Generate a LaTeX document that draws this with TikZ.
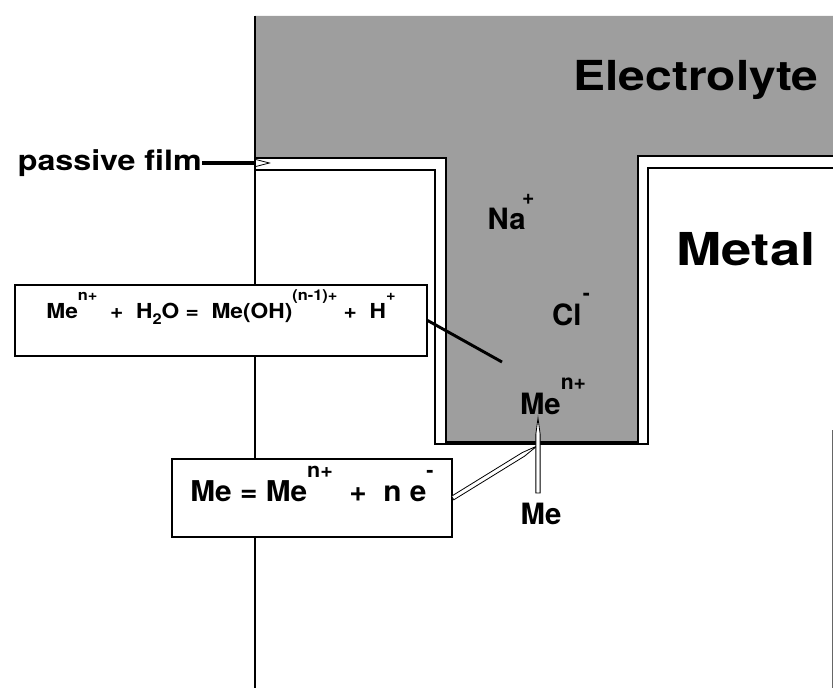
\documentclass[tikz,border=0pt]{standalone}
\usepackage{fontspec}
\setmainfont{TeX Gyre Heros}
\usepackage{graphicx}
\usetikzlibrary{arrows.meta,calc}
\newcommand{\chg}[1]{\raisebox{0.85em}{\scalebox{0.72}{#1}}}
\newcommand{\lowr}[1]{\raisebox{-0.3em}{\scalebox{0.72}{#1}}}
\newcommand{\wide}[2]{\scalebox{#1}[1]{#2}}
\newcommand{\lift}[2]{\raisebox{#1}[\height][\depth]{#2}}

\begin{document}
\begin{tikzpicture}[x=0.75pt,y=0.75pt,yscale=-1,xscale=1,
  big/.style={font=\bfseries\fontsize{31}{36}\selectfont, inner sep=0pt},
  lbl/.style={font=\bfseries\fontsize{21}{26}\selectfont, inner sep=0pt},
  ion/.style={font=\bfseries\fontsize{22}{26}\selectfont, inner sep=0pt},
  eqsmall/.style={font=\bfseries\fontsize{15.5}{18}\selectfont},
  eqbig/.style={font=\bfseries\fontsize{21.5}{25}\selectfont},
  frame/.style={draw, line width=1, fill=white, inner sep=0pt},
  spike/.style={draw, fill=white, line width=0.6, line join=miter}]
\useasboundingbox (0,0) rectangle (833,688);

%Shape: Polygon [id:electrolyte]
\fill [black!38] (255,16) -- (833,16) -- (833,156) -- (638,156) -- (638,442) -- (446,442) -- (446,158) -- (255,158) -- cycle ;
%Straight Lines [id:electrolyte edge]
\draw [line width=1.2] (255,158) -- (446,158) -- (446,442) -- (638,442) -- (638,156) -- (833,156) ;
%Straight Lines [id:metal surface]
\draw [line width=1.2] (255,16) -- (255,688) ;
\draw [line width=1.2] (255,170) -- (435,170) -- (435,444) -- (648,444) -- (648,168) -- (833,168) ;
\draw [line width=0.6, black!60] (832,430) -- (832,688) ;

%Text labels
\node [big] (elec) at (696,80) {\wide{1.16}{Electrolyte}};
\node [big, font=\bfseries\fontsize{34}{38}\selectfont] (metal) at (746,249) {\wide{1.2}{Metal}};
\node [lbl, anchor=east] (film) at (202,163) {\wide{1.15}{passive film}};
\node [ion] (na) at (511,212) {Na\kern-0.12em\chg{+}};
\node [ion] (cl) at (571,310) {Cl\kern0.05em\chg{-}};
\node [ion] (men) at (553,396) {Me\chg{n+}};
\node [ion] (me) at (541,514) {Me};

%Shape: Rectangle [id:box1]
\node [frame, eqsmall, minimum width=309pt, minimum height=53.25pt] (box1) at (221,320.5) {\lift{10pt}{\wide{1.1}{Me\chg{n+} \ + \ H\lowr{2}O = \ Me(OH)\chg{(n-1)+} + \ H\chg{+}}}};
%Shape: Rectangle [id:box2]
\node [frame, eqbig, minimum width=210pt, minimum height=58.5pt] (box2) at (312,498) {\lift{10.5pt}{\wide{1.04}{Me = Me\chg{n+} \ + \ n e\chg{-}}}};

%Straight Lines [id:passive film arrow]
\coordinate (filmtip) at (271,163);
\draw [line width=2.4, -{Triangle[open, length=12pt, width=6pt, line width=0.6pt]}] (film.east) -- (filmtip) ;
%Straight Lines [id:hydrolysis]
\coordinate (hyd) at (502,362);
\draw [line width=2.2] (box1.east) -- (hyd) ;
%Shape: Spike [id:dissolution]
\coordinate (rxn) at (537,446);
\coordinate (rxnneck) at ($(rxn)!12pt!(box2.east)$);
\path [spike] ($(box2.east)!1.6pt!-90:(rxn)$) -- ($(rxnneck)!1.6pt!90:(box2.east)$) -- (rxn) -- ($(rxnneck)!1.6pt!-90:(box2.east)$) -- ($(box2.east)!1.6pt!90:(rxn)$) -- cycle ;
%Shape: Spike [id:metal atom]
\coordinate (metbase) at (538,493);
\coordinate (mettop) at (538,418);
\coordinate (metneck) at ($(mettop)!12pt!(metbase)$);
\path [spike] ($(metbase)!1.6pt!-90:(mettop)$) -- ($(metneck)!1.6pt!90:(metbase)$) -- (mettop) -- ($(metneck)!1.6pt!-90:(metbase)$) -- ($(metbase)!1.6pt!90:(mettop)$) -- cycle ;

\end{tikzpicture}
\end{document}
